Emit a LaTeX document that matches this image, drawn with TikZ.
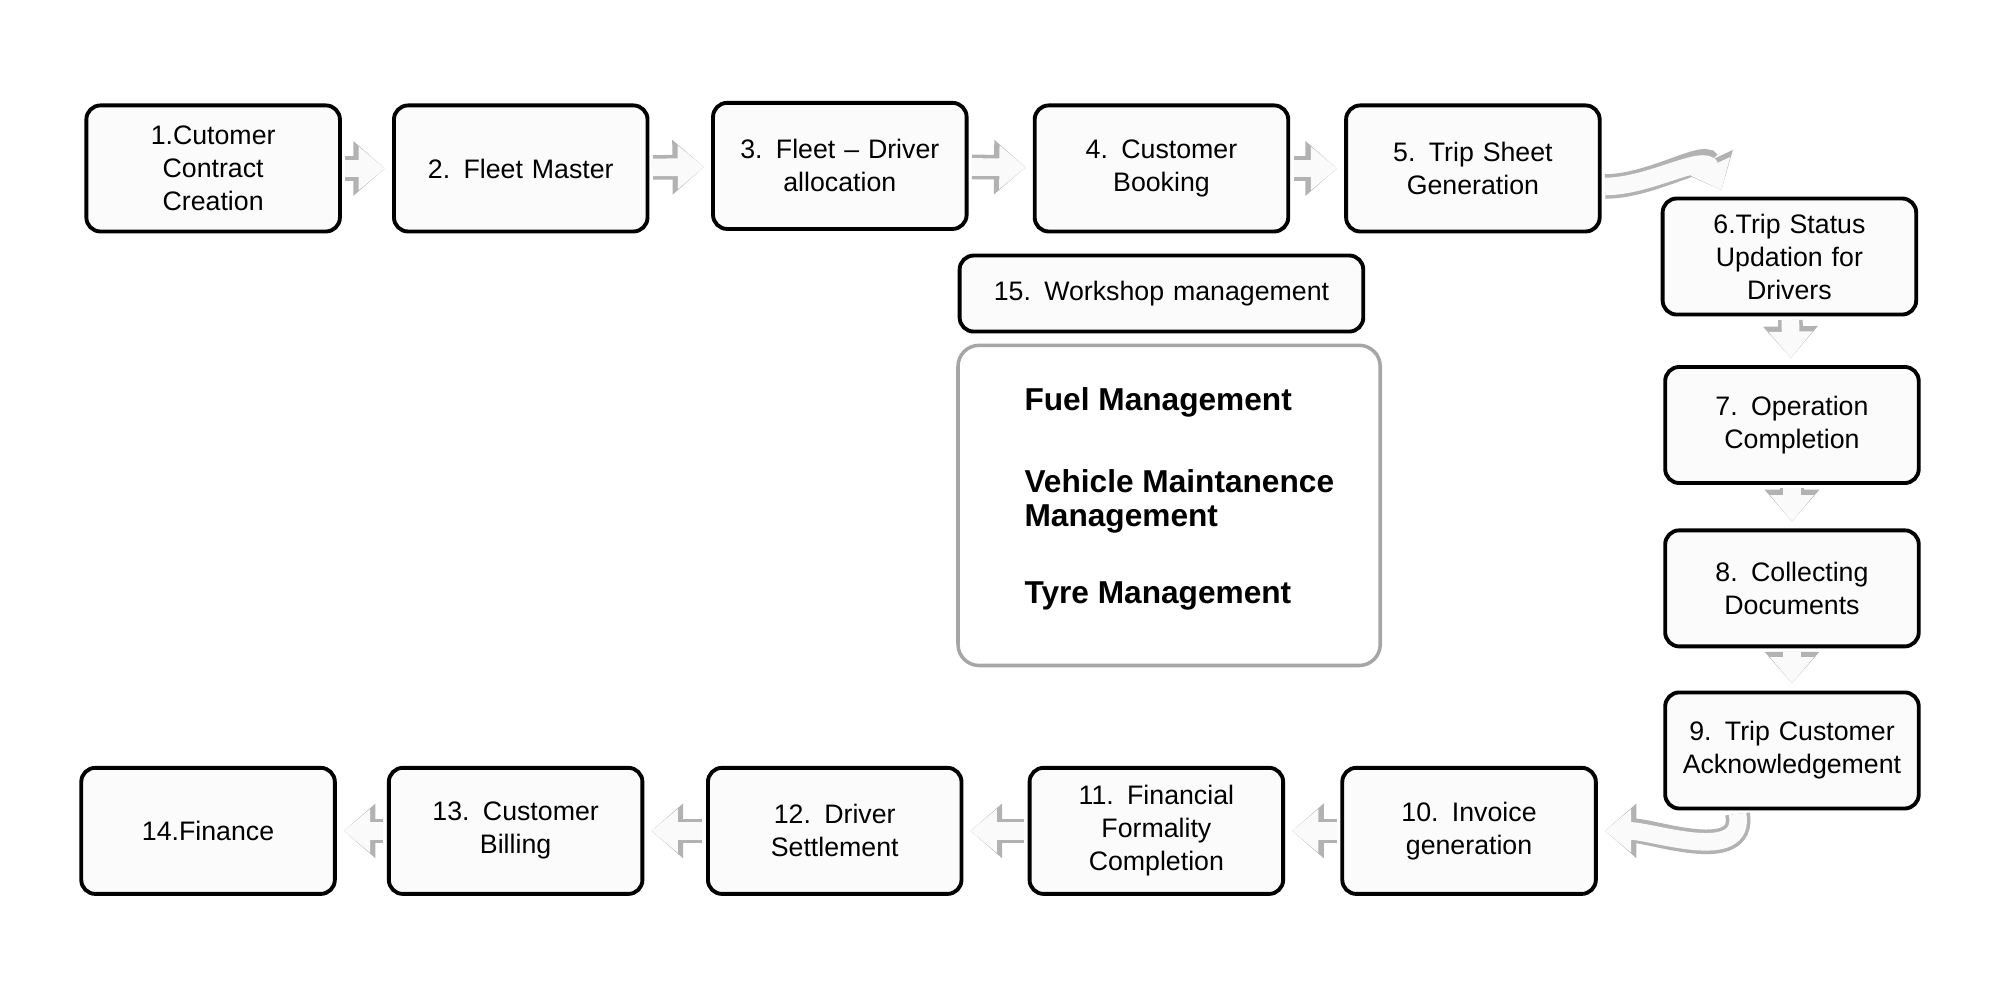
\documentclass[tikz,border=0pt]{standalone}
\usepackage{fontspec}
\setmainfont{Liberation Sans}
\usetikzlibrary{arrows.meta}
\tikzstyle{stage} = [rectangle, rounded corners=4pt, minimum width=2.46cm, minimum height=1.26cm, text width=2.3cm, align=center, draw=black, line width=1.1pt, fill=gray!3, font=\fontsize{7.6}{9.4}\selectfont]
\tikzstyle{group} = [rectangle, rounded corners=6pt, draw=gray!70, line width=1pt]
\tikzstyle{item} = [anchor=west, align=left, font=\fontsize{9}{9.6}\selectfont\bfseries]
\tikzstyle{blockarrow} = [preaction={draw=gray!60, line width=7pt, -{Triangle[length=9pt,width=15pt]}}, draw=gray!4, line width=5pt, -{Triangle[length=7.5pt,width=12pt]}, shorten >=2pt, shorten <=1pt]

\begin{document}
\begin{tikzpicture}[x=0.01276cm, y=-0.01276cm]
\useasboundingbox (0,0) rectangle (1567,783);

\node (n1) [stage] at (167,132) {1.Cutomer\\Contract\\Creation};
\node (n2) [stage] at (408,132) {2. Fleet Master};
\node (n3) [stage] at (658,130) {3. Fleet -- Driver\\allocation};
\node (n4) [stage] at (910,132) {4. Customer\\Booking};
\node (n5) [stage] at (1154,132) {5. Trip Sheet\\Generation};
\node (n6) [stage, minimum height=1.16cm] at (1402,201) {6.Trip Status\\Updation for\\Drivers};
\node (n7) [stage, minimum height=1.16cm] at (1404,333) {7. Operation\\Completion};
\node (n8) [stage, minimum height=1.16cm] at (1404,461) {8. Collecting\\Documents};
\node (n9) [stage, minimum height=1.16cm] at (1404,588) {9. Trip Customer\\Acknowledgement};
\node (n10) [stage] at (1151,651) {10. Invoice\\generation};
\node (n11) [stage] at (906,651) {11. Financial\\Formality\\Completion};
\node (n12) [stage] at (654,651) {12. Driver\\Settlement};
\node (n13) [stage] at (404,651) {13. Customer\\Billing};
\node (n14) [stage] at (163,651) {14.Finance};
\node (n15) [stage, minimum width=3.96cm, text width=3.8cm, minimum height=0.76cm] at (910,230) {15. Workshop management};

\node (ws) [group, minimum width=4.22cm, minimum height=3.2cm] at (916,396) {};
\node (fuel) [item] at (793,315) {Fuel Management};
\node (veh) [item] at (793,393) {Vehicle Maintanence\\Management};
\node (tyre) [item] at (793,467) {Tyre Management};

\draw [blockarrow] (n1) -- (n2);
\draw [blockarrow] (n2) -- (n3);
\draw [blockarrow] (n3) -- (n4);
\draw [blockarrow] (n4) -- (n5);
\draw [blockarrow] ([yshift=-0.18cm]n5.east) to[out=0, in=115] ([xshift=-0.65cm]n6.north);
\draw [blockarrow] (n6) -- (n7);
\draw [blockarrow] (n7) -- (n8);
\draw [blockarrow] (n8) -- (n9);
\draw [blockarrow] ([xshift=-0.55cm]n9.south) to[out=-80, in=0] (n10.east);
\draw [blockarrow] (n10) -- (n11);
\draw [blockarrow] (n11) -- (n12);
\draw [blockarrow] (n12) -- (n13);
\draw [blockarrow] (n13) -- (n14);

\end{tikzpicture}
\end{document}
